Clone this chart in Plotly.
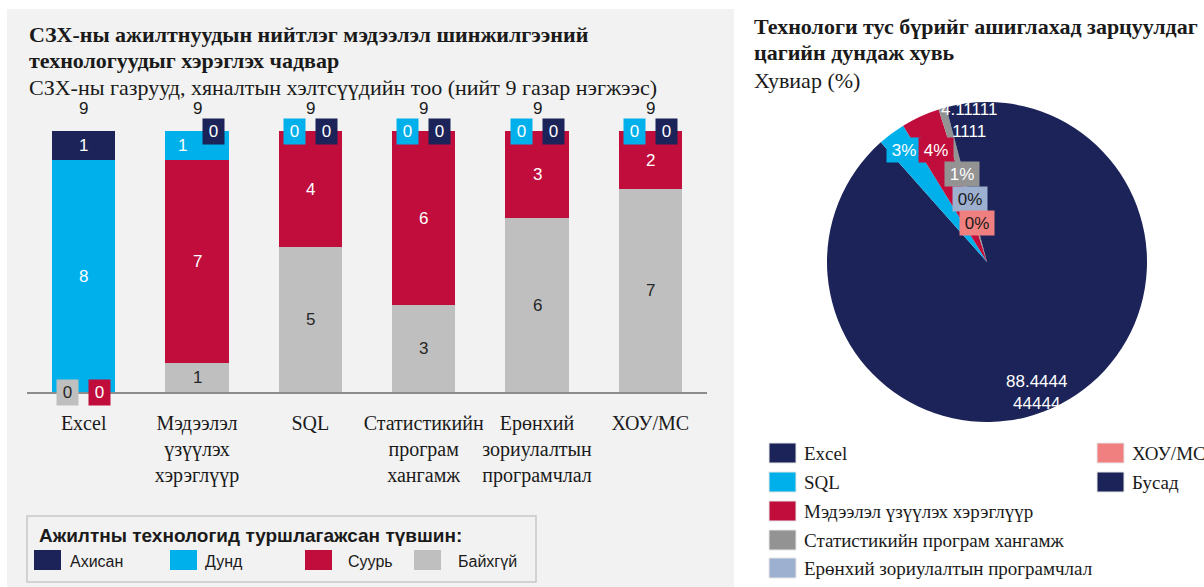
import math
import plotly.graph_objects as go

W, H = 1204, 587

# ---------------- data ----------------
categories = ["Excel", "Мэдээлэл үзүүлэх хэрэглүүр", "SQL",
              "Статистикийн програм хангамж", "Ерөнхий зориулалтын програмчлал", "ХОУ/МС"]
category_ticks = ["Excel", "Мэдээлэл<br>үзүүлэх<br>хэрэглүүр", "SQL",
                  "Статистикийн<br>програм<br>хангамж", "Ерөнхий<br>зориулалтын<br>програмчлал", "ХОУ/МС"]

level_names = ["Ахисан", "Дунд", "Суурь", "Байхгүй"]
ahisan = [1, 0, 0, 0, 0, 0]
dund = [8, 1, 0, 0, 0, 0]
suur = [0, 7, 4, 6, 3, 2]
baihgui = [0, 1, 5, 3, 6, 7]

pie_labels = ["Excel", "SQL", "Мэдээлэл үзүүлэх хэрэглүүр", "Статистикийн програм хангамж",
              "Ерөнхий зориулалтын програмчлал", "ХОУ/МС", "Бусад"]
pie_values = [88.444444444, 2.777777778, 3.888888889, 0.777777778, 0.0, 0.0, 4.111111111]

# ---------------- style ----------------
NAVY, CYAN, RED, GREY = "#1b2358", "#00b0ea", "#c00d3c", "#bfbfbf"
level_colors = {"Ахисан": NAVY, "Дунд": CYAN, "Суурь": RED, "Байхгүй": GREY}
level_text = {"Ахисан": "white", "Дунд": "white", "Суурь": "white", "Байхгүй": "#262626"}
zero_shift = {"Ахисан": 16, "Дунд": -16, "Суурь": 16, "Байхгүй": -16}
label_shift = {("Дунд", 1): -15}   # segment label nudged away from a neighbouring label
pie_colors = [NAVY, CYAN, RED, "#939393", "#9db0d0", "#f08080", NAVY]
pie_text_col = ["white", "white", "white", "white", "#1a1a1a", "#1a1a1a", "white"]
pie_mode = ["raw", "pct", "pct", "pct", "pct", "pct", "raw"]
pie_label_r = [0.87, 0.875, 0.77, 0.57, 0.41, 0.25, 0.89]

SERIF = "Liberation Serif"
SANS = "Liberation Sans"
DARK = "#1a1a1a"


def px(x):
    return x / W


def py(y):
    return 1 - y / H


def note(x, y, text, size, family=SERIF, color=DARK, xanchor="left", **kw):
    return dict(x=px(x), y=py(y), xref="paper", yref="paper", xanchor=xanchor, yanchor="middle",
                showarrow=False, text=text, font=dict(family=family, size=size, color=color), **kw)


series = {"Ахисан": ahisan, "Дунд": dund, "Суурь": suur, "Байхгүй": baihgui}
stack_order = ["Байхгүй", "Суурь", "Дунд", "Ахисан"]  # bottom -> top

fig = go.Figure()
for name in stack_order:
    vals = series[name]
    fig.add_trace(go.Bar(
        x=categories, y=vals, name=name,
        marker=dict(color=level_colors[name], line=dict(width=0)),
        hoverinfo="x+y+name", showlegend=False,
    ))

annotations = []
shapes = []

# panel background
shapes.append(dict(type="rect", xref="paper", yref="paper", x0=px(7), x1=px(734), y0=py(590), y1=py(9),
                   fillcolor="#f2f2f2", line=dict(width=0), layer="below"))

# segment labels, totals and zero labels
for i, cat in enumerate(categories):
    total = sum(series[n][i] for n in stack_order)
    annotations.append(dict(x=cat, y=total, xref="x", yref="y", text=str(total), showarrow=False,
                            xanchor="center", yanchor="bottom", yshift=11,
                            font=dict(family=SANS, size=17, color=DARK)))
    base = 0
    for n in stack_order:
        v = series[n][i]
        if v == 0:
            annotations.append(dict(x=cat, y=base, xref="x", yref="y", text="0", showarrow=False,
                                    xanchor="center", yanchor="middle",
                                    xshift=zero_shift[n], width=19, height=23,
                                    bgcolor=level_colors[n],
                                    font=dict(family=SANS, size=17, color=level_text[n])))
        else:
            annotations.append(dict(x=cat, y=base + v / 2, xref="x", yref="y", text=str(v),
                                    showarrow=False, xanchor="center", yanchor="middle",
                                    xshift=label_shift.get((n, i), 0),
                                    font=dict(family=SANS, size=17, color=level_text[n])))
        base += v

# left titles
annotations += [
    note(27, 34, "<b>СЗХ-ны ажилтнуудын нийтлэг мэдээлэл шинжилгээний</b>", 22),
    note(27, 61, "<b>технологуудыг хэрэглэх чадвар</b>", 22),
    note(27, 87, "СЗХ-ны газрууд, хяналтын хэлтсүүдийн тоо (нийт 9 газар нэгжээс)", 22),
]

# bar legend box (manual)
shapes.append(dict(type="rect", xref="paper", yref="paper", x0=px(27), x1=px(536), y0=py(582), y1=py(516),
                   fillcolor="rgba(0,0,0,0)", line=dict(color="#c8c8c8", width=1.5)))
annotations.append(note(37, 535, "<b>Ажилтны технологид туршлагажсан түвшин:</b>", 19, family=SANS))
leg_sq_x = [34, 170, 305, 414]
leg_tx_x = [68, 203, 346, 456]
for k, n in enumerate(level_names):
    shapes.append(dict(type="rect", xref="paper", yref="paper", x0=px(leg_sq_x[k]), x1=px(leg_sq_x[k] + 27),
                       y0=py(570), y1=py(550), fillcolor=level_colors[n], line=dict(width=0)))
    annotations.append(note(leg_tx_x[k], 561, n, 16, family=SANS))

# ---------------- pie ----------------
CX, CY, R = 987, 262, 160
fig.add_trace(go.Pie(
    labels=pie_labels, values=pie_values, sort=False, direction="clockwise", rotation=0,
    marker=dict(colors=pie_colors, line=dict(width=0)), textinfo="none", showlegend=False,
    domain=dict(x=[px(CX - R), px(CX + R)], y=[py(CY + R), py(CY - R)]),
    hoverinfo="label+value+percent",
))

ptotal = sum(pie_values)
cum = 0
for i, v in enumerate(pie_values):
    mid = (cum + v / 2) / ptotal * 360
    cum += v
    r = pie_label_r[i] * R
    lx = CX + r * math.sin(math.radians(mid))
    ly = CY - r * math.cos(math.radians(mid))
    if pie_mode[i] == "raw":
        s = f"{v:.9f}"
        annotations.append(note(lx, ly, s[:7] + "<br>" + s[7:], 17, family=SANS,
                                color=pie_text_col[i], xanchor="center"))
    else:
        annotations.append(note(lx, ly, f"{round(v / ptotal * 100)}%", 17, family=SANS,
                                color=pie_text_col[i], xanchor="center",
                                width=32, height=22, bgcolor=pie_colors[i]))

# right titles
annotations += [
    note(752, 26, "<b>Технологи тус бүрийг ашиглахад зарцуулдаг</b>", 22),
    note(752, 53, "<b>цагийн дундаж хувь</b>", 22),
    note(752, 80, "Хувиар (%)", 22),
]

# pie legend (manual, column-major)
pie_leg_pos = [(769, 453), (769, 482), (769, 511), (769, 540), (769, 568), (1097, 453), (1097, 482)]
for i, lab in enumerate(pie_labels):
    sx, sy = pie_leg_pos[i]
    shapes.append(dict(type="rect", xref="paper", yref="paper", x0=px(sx), x1=px(sx + 27),
                       y0=py(sy + 10), y1=py(sy - 10), fillcolor=pie_colors[i],
                       line=dict(color="#e6e6e6", width=1)))
    annotations.append(note(sx + 33, sy, lab, 19))

fig.update_layout(
    width=W, height=H, margin=dict(l=0, r=0, t=0, b=0),
    paper_bgcolor="white", plot_bgcolor="rgba(0,0,0,0)",
    barmode="stack", bargap=0.44,
    xaxis=dict(domain=[px(27), px(707)], range=[-0.5, 5.5], tickmode="array", tickvals=categories,
               ticktext=category_ticks, tickangle=0, showline=True, linecolor="#8c8c8c", linewidth=1.5,
               showgrid=False, zeroline=False, ticks="outside", ticklen=12, tickcolor="rgba(0,0,0,0)",
               tickfont=dict(family=SERIF, size=20, color=DARK), fixedrange=True),
    yaxis=dict(domain=[py(392), py(102)], range=[0, 10], visible=False, fixedrange=True),
    annotations=annotations, shapes=shapes, showlegend=False,
)

fig.write_html("out.html", config={"displayModeBar": False},
               post_script="document.body.style.margin='0';document.body.style.overflow='hidden';")
